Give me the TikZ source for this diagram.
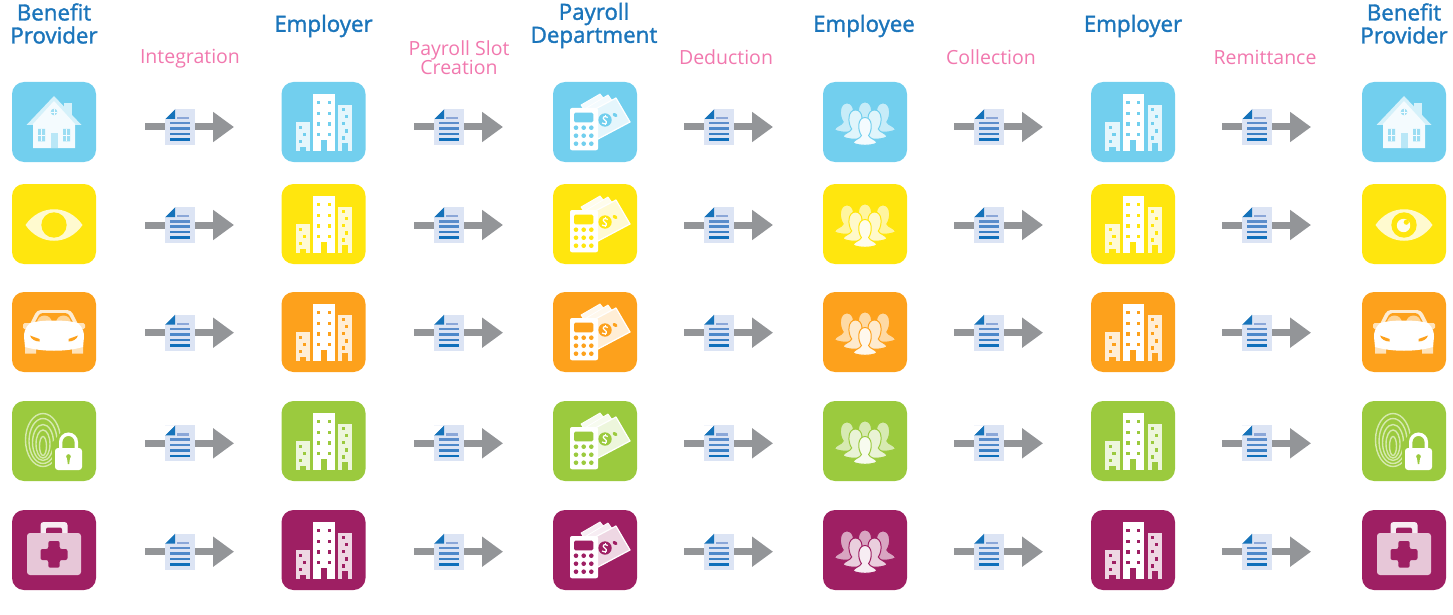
\documentclass[tikz,border=0pt]{standalone}
\usepackage{fontspec}
\setmainfont{Open Sans}
\newfontfamily\headfont[FakeBold=1.5]{Open Sans}
\usetikzlibrary{arrows.meta}
\definecolor{tileA}{HTML}{72CFEE}
\definecolor{tileB}{HTML}{FFE60E}
\definecolor{tileC}{HTML}{FDA11C}
\definecolor{tileD}{HTML}{9BCA3E}
\definecolor{tileE}{HTML}{9E1F63}
\definecolor{headblue}{HTML}{1B75BB}
\definecolor{stagepink}{HTML}{F178AE}
\definecolor{arrowgrey}{HTML}{939598}
\definecolor{pagecol}{HTML}{DCE4F4}
\definecolor{foldcol}{HTML}{1673BA}
\definecolor{lineA}{HTML}{8BA7D8}
\definecolor{lineB}{HTML}{5B8DCB}
\definecolor{lineC}{HTML}{4D88CA}
\definecolor{lineD}{HTML}{3A7FC4}
\definecolor{lineE}{HTML}{0F6FBB}
\tikzset{
  x=1pt,y=-1pt,
  tile/.style={minimum width=84pt,minimum height=80pt,inner sep=0pt,rounded corners=12pt,draw=none},
  headlabel/.style={text=headblue,align=center,inner sep=0pt,font=\headfont\fontsize{22.3}{23}\selectfont},
  stagelabel/.style={text=stagepink,align=center,inner sep=0pt,font=\fontsize{19.5}{19}\selectfont},
  flowarrow/.style={draw=arrowgrey,line width=7pt,-{Triangle[length=21pt,width=29pt]}},
  docpage/.style={fill=pagecol,draw=none,minimum width=30pt,minimum height=36pt,inner sep=0pt},
}
% ---- icons, drawn about the centre of their tile
\newcommand{\IconHouse}{%
  \fill[tc!30!white] (10,-19) rectangle (18,-6);
  \fill[tc!30!white] (0,-26) -- (27.5,3) -- (-27.5,3) -- cycle;
  \fill[tw] (0,-21) -- (21,2) -- (21,26) -- (-21,26) -- (-21,2) -- cycle;
  \fill[tc!70!white] (-16,7) rectangle (-9,19.5) (9,7) rectangle (16,19.5);
  \draw[tw,line width=.7pt] (-12.5,7) -- (-12.5,19.5) (-16,13) -- (-9,13) (12.5,7) -- (12.5,19.5) (9,13) -- (16,13);
  \fill[tc!50!white] (-3,11) rectangle (3.5,26);
  \fill[tc!70!white] (0,-10) circle[radius=3.3];
  \draw[tw,line width=.6pt] (-3.3,-10) -- (3.3,-10) (0,-13.3) -- (0,-6.7);
}
\newcommand{\EyeBase}{%
  \fill[tc!20!white] (-28.5,1) .. controls (-14,-20) and (14,-20) .. (28.5,1) .. controls (14,22) and (-14,22) .. cycle;
  \fill[tc] (0,1) circle[radius=12.7];
}
\newcommand{\IconEye}{\EyeBase}
\newcommand{\IconEyeP}{\EyeBase
  \fill[tw] (-0.5,1.5) circle[radius=6.7];
  \fill[tc] (2.3,-1.8) circle[radius=2.6];
}
\newcommand{\IconCar}{%
  \fill[tc!30!white] (-29,12) rectangle (-18,21.5) (18,12) rectangle (29,21.5);
  \fill[tc!20!white,rounded corners=4pt] (-25,-6) -- (-17,-22) -- (17,-22) -- (25,-6) -- cycle;
  \fill[tc,rounded corners=3pt] (-21,-6) -- (-14,-19) -- (14,-19) -- (21,-6) -- cycle;
  \fill[tc!45!white] (-9.5,-9) circle[radius=7.5] (9.5,-9) circle[radius=7.5];
  \fill[tc!30!white,rounded corners=1.5pt] (-31,-9) rectangle (-22,-3) (22,-9) rectangle (31,-3);
  \fill[white] (-20,-10) .. controls (-8,-12) and (8,-12) .. (20,-10) -- (24,-9) .. controls (29,-4) and (30,0) .. (30,5) -- (29,15) .. controls (12,20) and (-12,20) .. (-29,15) -- (-30,5) .. controls (-30,0) and (-29,-4) .. (-24,-9) -- cycle;
  \fill[tc] (-24,3.5) -- (-14.5,7) -- (-14.5,9.5) .. controls (-19,9.5) and (-23,7) .. cycle;
  \fill[tc] (24,3.5) -- (14.5,7) -- (14.5,9.5) .. controls (19,9.5) and (23,7) .. cycle;
}
\newcommand{\IconFinger}{%
  \begin{scope}[tc!42!white,line width=1.4pt]
    \draw (-11,-1) ellipse[x radius=17.5,y radius=26.5];
    \draw (-11,0) ellipse[x radius=14,y radius=22.5];
    \draw (-11,1.5) ellipse[x radius=10.5,y radius=18];
    \draw (-11,3) ellipse[x radius=7,y radius=14];
    \draw (-11,5) ellipse[x radius=3.5,y radius=9.5];
  \end{scope}
  \fill[tc] (-2,2) rectangle (30,31);
  \fill[tc] (-2,2) -- (8,-10) -- (22,-10) -- (22,4) -- cycle;
  \draw[white,line width=3.4pt] (6.7,8) -- (6.7,1) arc[start angle=180,end angle=360,radius=7.8] -- (22.3,8);
  \fill[white,rounded corners=3pt] (1,7) rectangle (28,29);
  \fill[tc] (14.5,15.5) circle[radius=2.3];
  \fill[tc] (12.9,16) -- (16.1,16) -- (15.2,23) -- (13.8,23) -- cycle;
}
\newcommand{\IconCase}{%
  \fill[tw,rounded corners=3pt] (-13.5,-10) -- (-13.5,-28) -- (13.5,-28) -- (13.5,-10) -- cycle;
  \fill[tc,rounded corners=2pt] (-8,-10) -- (-8,-22.5) -- (8,-22.5) -- (8,-10) -- cycle;
  \fill[tc!25!white,rounded corners=3pt] (-27,-17) rectangle (27,25);
  \fill[tc,rounded corners=2pt] (-5.7,-9) -- (5.7,-9) -- (5.7,-1) -- (13.5,-1) -- (13.5,10) -- (5.7,10) -- (5.7,17.7) -- (-5.7,17.7) -- (-5.7,10) -- (-13.5,10) -- (-13.5,-1) -- (-5.7,-1) -- cycle;
}
\newcommand{\IconBuilding}{%
  \fill[tc!18!white] (-28,0) rectangle (-13.3,28.7);
  \fill[tc!18!white] (14.7,-17.3) rectangle (28.7,28.7);
  \fill[white] (-10.3,-28) rectangle (11,28.7);
  \fill[tc] (-2.7,18) rectangle (3.3,28.7);
  \fill[tc] (-24,25.3) rectangle (-17.3,28.7);
  \fill[tc] (18.7,21.3) rectangle (24.7,28.7);
  \foreach \wy in {-19.3,-8.7,2,12.3}{
    \fill[tc] (-6.7,\wy-1.7) rectangle ++(3.3,3.3);
    \fill[tc] (4,\wy-1.7) rectangle ++(3.3,3.3);
  }
  \foreach \wx/\wy in {-22.7/5.3,-19/12.3,-22.7/19.3,19.7/-12.3,23.3/-5.3,19.7/1.7,23.3/9,19.7/16}{
    \fill[tc] (\wx-1.6,\wy-1.6) rectangle ++(3.2,3.2);
  }
}
\newcommand{\IconCalc}{%
  \fill[tw,draw=white,line width=.8pt,line join=round] (5,-28) -- (21,-8) -- (-5,-4) -- (-14,-17) -- cycle;
  \fill[tw,draw=white,line width=.8pt,line join=round] (13,-27) -- (28,-6) -- (-3,2) -- (-12,-12) -- cycle;
  \fill[tc!18!white,draw=white,line width=1.2pt,line join=round] (21,-24) -- (35,0) -- (3,17) -- (-11,-7) -- cycle;
  \fill[tc] (10,-2) circle[radius=6.7];
  \draw[white,line width=1.2pt] (12.8,-4.5) .. controls (9,-7) and (6.5,-4) .. (9.5,-2.2) .. controls (13.5,0) and (11,3.5) .. (7,1);
  \draw[white,line width=.9pt] (10,-7) -- (10,-5) (10,1.5) -- (10,3.3);
  \fill[tc,rotate around={-30:(20,-7)}] (20,-7) ellipse[x radius=2.6,y radius=1.7];
  \fill[white,rounded corners=2pt] (-25,-14) rectangle (3,28.3);
  \fill[tc,rounded corners=1.5pt] (-21,-9.3) rectangle (-1.7,.3);
  \foreach \bx in {-19,-11.3,-3.7}{\foreach \by in {5.7,13.7,21.7}{
    \fill[tc] (\bx,\by) circle[radius=2.3];}}
}
\newcommand{\OnePerson}[4]{% x, y, fill, scale
  \begin{scope}[shift={(#1,#2)},scale=#4]
    \fill[#3,draw=tc,line width=1pt] (-12.5,17) .. controls (-12,13) and (-5,12.5) .. (-3.8,9) .. controls (-8,3) and (-8,-10) .. (0,-10) .. controls (8,-10) and (8,3) .. (3.8,9) .. controls (5,12.5) and (12,13) .. (12.5,17) .. controls (6,20) and (-6,20) .. cycle;
  \end{scope}
}
\newcommand{\IconPeople}{%
  \OnePerson{-18}{-9}{tc!40!white}{1}
  \OnePerson{18}{-9}{tc!40!white}{1}
  \OnePerson{0}{-10}{tc!40!white}{1}
  \OnePerson{-9.5}{-2}{tc!22!white}{1}
  \OnePerson{9.5}{-2}{tc!22!white}{1}
  \OnePerson{0}{5}{tw}{.95}
}
\newcommand{\PageLines}{%
  \fill[foldcol] (-15,-8) -- (-5,-18) -- (-5,-8) -- cycle;
  \fill[white] (-15,-8) -- (-5,-18) -- (-15,-18) -- cycle;
  \fill[lineA] (-3.5,-10.2) rectangle (8.5,-7.8);
  \fill[lineB] (-10,-4.9) rectangle (10,-2.5);
  \fill[lineC] (-10,.4) rectangle (10,2.8);
  \fill[lineD] (-10,6) rectangle (10,8.4);
  \fill[lineE] (-10,11.4) rectangle (10,13.8);
}
\begin{document}
\begin{tikzpicture}
\useasboundingbox (0,0) rectangle (1453,615);
% column headings
\node[headlabel] (hA) at (54,23.5) {Benefit\\Provider};
\node[headlabel] (hB) at (323.5,26) {Employer};
\node[headlabel] (hC) at (594,25.5) {Payroll\\Department};
\node[headlabel] (hD) at (864,26) {Employee};
\node[headlabel] (hE) at (1133,26) {Employer};
\node[headlabel] (hF) at (1404,23.5) {Benefit\\Provider};
% stage headings
\node[stagelabel] (sA) at (190,59) {Integration};
\node[stagelabel] (sB) at (459,57.5) {Payroll Slot\\Creation};
\node[stagelabel] (sC) at (726,57) {Deduction};
\node[stagelabel] (sD) at (991,57) {Collection};
\node[stagelabel] (sE) at (1265,57) {Remittance};
% rows
\foreach \r/\ty/\ay/\rc/\first/\last in {
  1/122/127/tileA/IconHouse/IconHouse,
  2/224/225/tileB/IconEye/IconEyeP,
  3/332/332.7/tileC/IconCar/IconCar,
  4/441/443.3/tileD/IconFinger/IconFinger,
  5/550/551.7/tileE/IconCase/IconCase}{
  \colorlet{tc}{\rc}
  \colorlet{tw}{tc!8!white}
  \foreach \c/\tx/\ic in {1/54/\first,2/323.5/IconBuilding,3/595/IconCalc,4/865/IconPeople,5/1133/IconBuilding,6/1404/\last}{
    \node[tile,fill=tc] (t\r\c) at (\tx,\ty) {};
    \begin{scope}[shift={(t\r\c.center)}]
      \csname\ic\endcsname
    \end{scope}
  }
  \foreach \c/\ax in {1/145,2/414,3/684,4/954,5/1222}{
    \coordinate (a\r\c) at (\ax,\ay);
    \coordinate (b\r\c) at (\ax+89,\ay);
    \draw[flowarrow] (a\r\c) -- (b\r\c);
    \node[docpage] (d\r\c) at (\ax+35,\ay) {};
    \begin{scope}[shift={(d\r\c.center)}]
      \PageLines
    \end{scope}
  }
}
\end{tikzpicture}
\end{document}
